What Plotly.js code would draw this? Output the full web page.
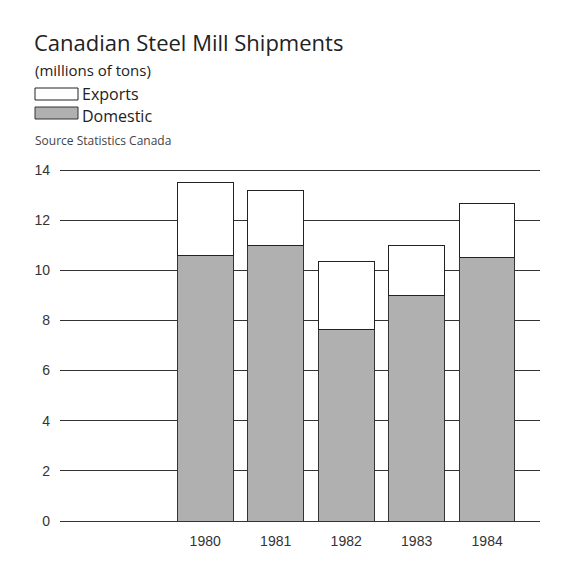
<!DOCTYPE html>
<html>
<head>
<meta charset="utf-8">
<script src="https://cdn.plot.ly/plotly-3.0.1.min.js"></script>
<style>html,body{margin:0;padding:0;background:#fff;}#chart{width:571px;height:565px;}</style>
</head>
<body>
<div id="chart"></div>
<script>
const years = ["1980", "1981", "1982", "1983", "1984"];
const domestic = [10.6, 11.0, 7.65, 9.0, 10.5];
const exportsVals = [2.9, 2.2, 2.7, 2.0, 2.15];
const yTicks = [0, 2, 4, 6, 8, 10, 12, 14];

const L = 60, R = 540, T = 165, B = 521;
const px = x => (x - L) / (R - L);
const py = y => (B - y) / (B - T);

const traces = [
  {type: 'bar', name: 'Domestic', x: years, y: domestic,
   marker: {color: '#b0b0b0', line: {color: '#333', width: 1}}, width: 0.79, hoverinfo: 'skip'},
  {type: 'bar', name: 'Exports', x: years, y: exportsVals,
   marker: {color: '#ffffff', line: {color: '#222', width: 1}}, width: 0.79, hoverinfo: 'skip'}
];

const layout = {
  width: 571, height: 565,
  margin: {l: L, r: 571 - R, t: T, b: 565 - B},
  paper_bgcolor: '#fff', plot_bgcolor: '#fff',
  barmode: 'stack', showlegend: false,
  font: {family: 'Liberation Sans, Arial, sans-serif', color: '#333'},
  title: {text: 'Canadian Steel Mill Shipments', x: 34/571, xanchor: 'left', y: 1 - 43/565, yanchor: 'middle',
          font: {family: 'Open Sans, sans-serif', size: 22, color: '#222'}},
  xaxis: {type: 'category', range: [-2.06, 4.75], showgrid: false, zeroline: false, showline: false,
          ticks: '', tickfont: {size: 14, color: '#333'}, ticklabelstandoff: 10},
  yaxis: {range: [0, 14.2], tickvals: yTicks, showgrid: true, gridcolor: '#333', gridwidth: 1,
          zeroline: true, zerolinecolor: '#333', zerolinewidth: 1, showline: false, ticks: '',
          tickfont: {size: 14, color: '#333'}, ticklabelstandoff: 9},
  shapes: [
    {type: 'rect', xref: 'paper', yref: 'paper', x0: px(35), x1: px(78), y0: py(100), y1: py(88),
     fillcolor: '#fff', line: {color: '#222', width: 1}},
    {type: 'rect', xref: 'paper', yref: 'paper', x0: px(35), x1: px(78), y0: py(119), y1: py(107),
     fillcolor: '#b0b0b0', line: {color: '#333', width: 1}}
  ],
  annotations: [
    {text: '(millions of tons)', xref: 'paper', yref: 'paper', x: px(33), y: py(70), xanchor: 'left', yanchor: 'middle',
     showarrow: false, font: {family: 'Open Sans, sans-serif', size: 15, color: '#222'}},
    {text: 'Exports', xref: 'paper', yref: 'paper', x: px(80), y: py(94), xanchor: 'left', yanchor: 'middle',
     showarrow: false, font: {family: 'Open Sans, sans-serif', size: 16, color: '#222'}},
    {text: 'Domestic', xref: 'paper', yref: 'paper', x: px(80), y: py(116), xanchor: 'left', yanchor: 'middle',
     showarrow: false, font: {family: 'Open Sans, sans-serif', size: 16, color: '#222'}},
    {text: 'Source Statistics Canada', xref: 'paper', yref: 'paper', x: px(33), y: py(140), xanchor: 'left', yanchor: 'middle',
     showarrow: false, font: {family: 'Open Sans, sans-serif', size: 12, color: '#444'}}
  ]
};

Plotly.newPlot('chart', traces, layout, {displayModeBar: false, staticPlot: true});
</script>
</body>
</html>
